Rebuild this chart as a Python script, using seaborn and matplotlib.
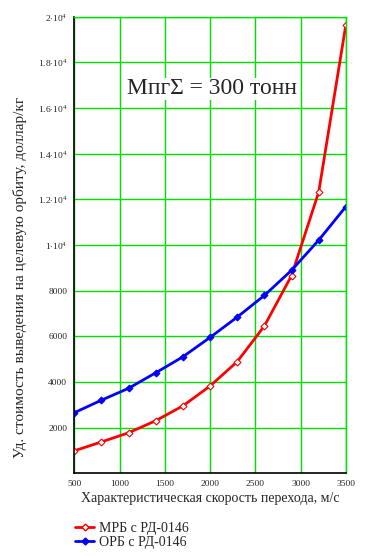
import pandas as pd
import matplotlib
matplotlib.use("Agg")
import matplotlib.pyplot as plt
import seaborn as sns
from matplotlib.lines import Line2D

# values
speed = [500, 800, 1100, 1400, 1700, 2000, 2300, 2600, 2900, 3200, 3500]
mrb_cost = [980, 1370, 1770, 2300, 2950, 3820, 4890, 6450, 8660, 12320, 19650]
orb_cost = [2650, 3200, 3720, 4400, 5100, 5950, 6840, 7790, 8890, 10210, 11680]
series_names = ["МРБ с РД-0146", "ОРБ с РД-0146"]
x_ticks = [500, 1000, 1500, 2000, 2500, 3000, 3500]
y_ticks = [2000, 4000, 6000, 8000, 10000, 12000, 14000, 16000, 18000, 20000]
y_tick_labels = ["2000", "4000", "6000", "8000", r"1$\cdot$10$^{4}$", r"1.2$\cdot$10$^{4}$",
                 r"1.4$\cdot$10$^{4}$", r"1.6$\cdot$10$^{4}$", r"1.8$\cdot$10$^{4}$", r"2$\cdot$10$^{4}$"]

df = pd.DataFrame({
    "speed": speed * 2,
    "cost": mrb_cost + orb_cost,
    "name": [series_names[0]] * len(speed) + [series_names[1]] * len(speed),
})

sns.set_style("white")
plt.rcParams['font.family'] = ['Liberation Serif', 'DejaVu Serif']
plt.rcParams['mathtext.fontset'] = 'custom'
plt.rcParams['mathtext.rm'] = 'Liberation Serif'

fig = plt.figure(figsize=(3.66, 5.58), dpi=100)
ax = fig.add_axes([0.203, 0.152, 0.742, 0.818])

grid_green = "#00e000"

sns.lineplot(data=df[df["name"] == series_names[0]], x="speed", y="cost", color="#ff0000",
             lw=2, marker="D", markersize=3.5, markerfacecolor="white",
             markeredgecolor="#ff0000", markeredgewidth=0.8, ax=ax, legend=False)
sns.lineplot(data=df[df["name"] == series_names[1]], x="speed", y="cost", color="#0000ff",
             lw=2, marker="D", markersize=3.5, markerfacecolor="#0000ff",
             markeredgecolor="#0000ff", ax=ax, legend=False)

ax.set_xlim(500, 3500)
ax.set_ylim(0, 20000)
ax.set_xticks(x_ticks)
ax.set_xticklabels([str(t) for t in x_ticks], fontsize=6.8)
ax.set_yticks(y_ticks)
ax.set_yticklabels(y_tick_labels, fontsize=6.8)
ax.grid(True, color=grid_green, lw=1)
ax.set_axisbelow(True)
ax.tick_params(axis="both", length=3, width=1, color="black", direction="out", pad=2)

for side in ["top", "right"]:
    ax.spines[side].set_color(grid_green)
    ax.spines[side].set_linewidth(1)
for side in ["left", "bottom"]:
    ax.spines[side].set_color("black")
    ax.spines[side].set_linewidth(1.2)

ax.set_xlabel("Характеристическая скорость перехода, м/с", fontsize=10)
ax.xaxis.set_label_coords(0.5, -0.042)
ax.set_ylabel("Уд. стоимость выведения на целевую орбиту, доллар/кг", fontsize=11)
ax.yaxis.set_label_coords(-0.175, 0.428)

ax.text(0.195, 0.842, "МпгΣ = 300 тонн", transform=ax.transAxes, fontsize=17,
        ha="left", va="center", bbox=dict(facecolor="white", edgecolor="none", pad=0.5))

handles = [
    Line2D([], [], color="#ff0000", lw=2, marker="D", markersize=3.5,
           markerfacecolor="white", markeredgecolor="#ff0000"),
    Line2D([], [], color="#0000ff", lw=2, marker="D", markersize=3.5,
           markerfacecolor="#0000ff"),
]
fig.legend(handles, series_names, loc="upper left", bbox_to_anchor=(0.205, 0.064),
           frameon=False, fontsize=10, handlelength=1.4, handletextpad=0.35,
           labelspacing=0.05, borderaxespad=0, borderpad=0)

fig.savefig("out.png", dpi=100)
